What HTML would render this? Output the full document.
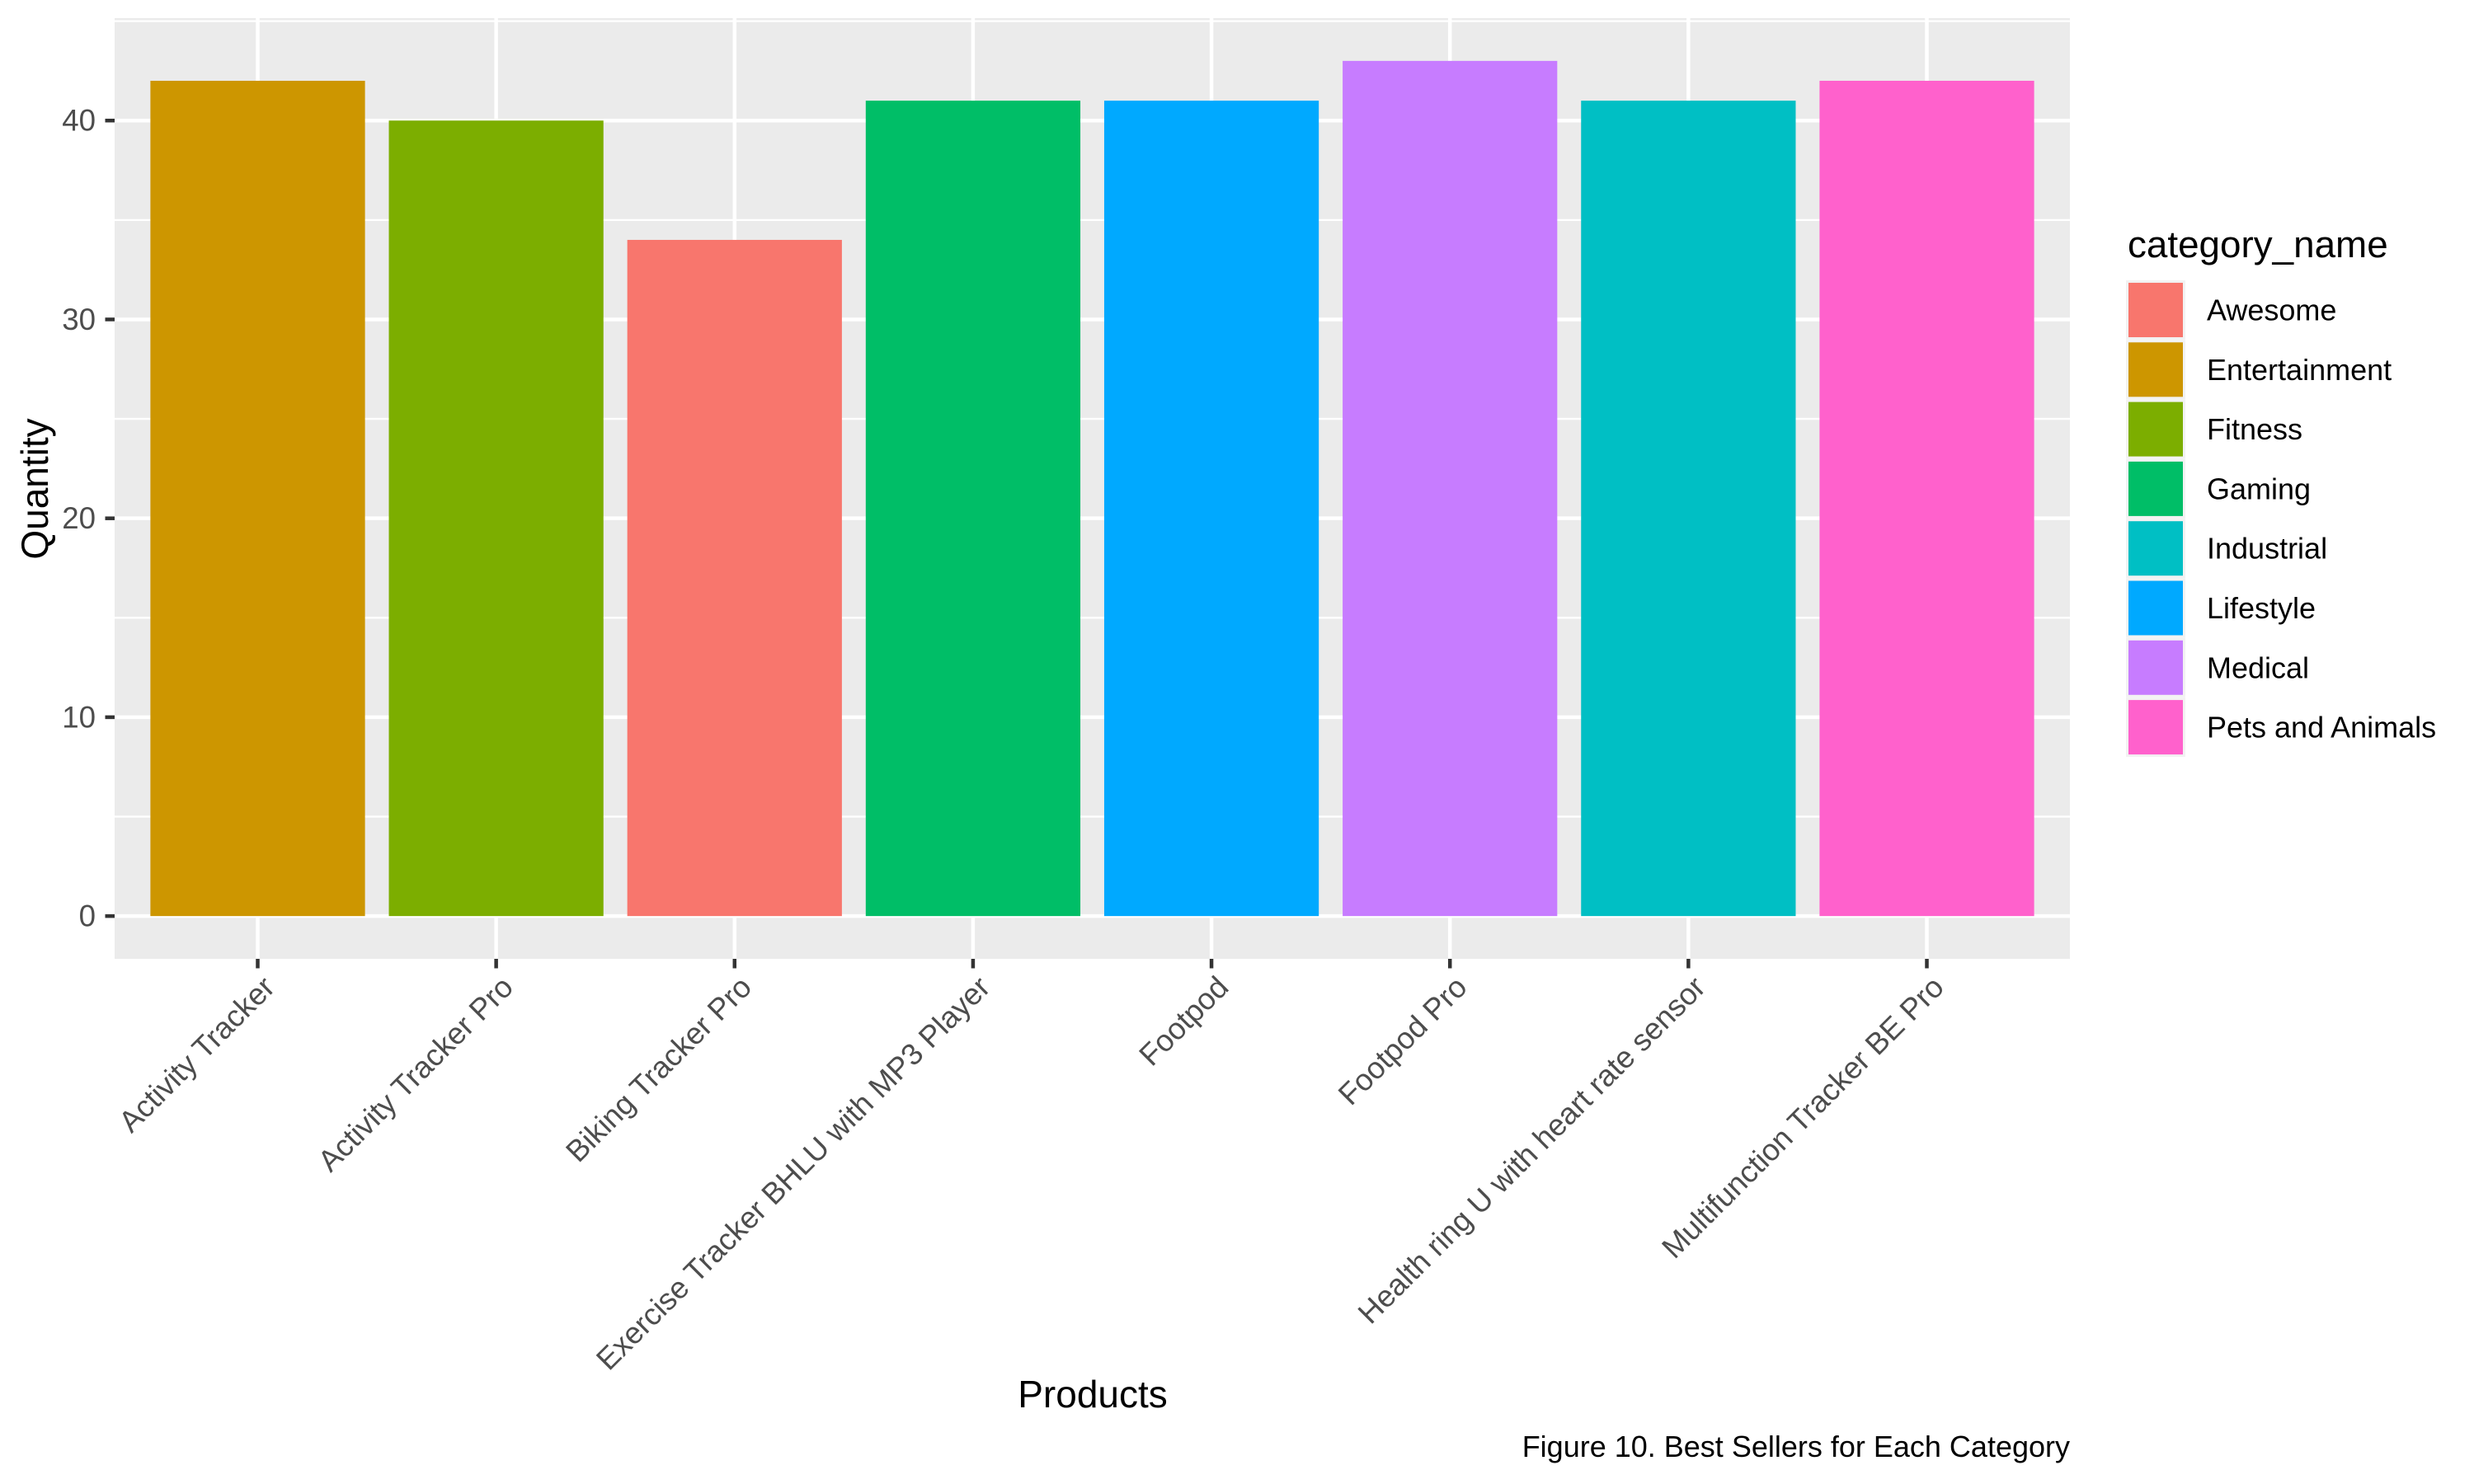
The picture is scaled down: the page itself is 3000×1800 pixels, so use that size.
<!DOCTYPE html>
<html><head><meta charset="utf-8"><style>
html,body{margin:0;padding:0;background:#fff;}
svg{display:block;font-family:"Liberation Sans",Arial,sans-serif;}
</style></head><body>
<svg id="chart" width="3000" height="1800" viewBox="0 0 3000 1800">
<rect x="0" y="0" width="3000" height="1800" fill="#fff"/>
<g id="panel"></g>
<g id="axes"></g>
<g id="legend"></g>
<text x="42" y="593" transform="rotate(-90 42 593)" text-anchor="middle" dominant-baseline="central" font-size="46" fill="#000">Quantity</text>
<text x="1325" y="1707" text-anchor="middle" font-size="46" fill="#000">Products</text>
<text x="2510" y="1767" text-anchor="end" font-size="36" fill="#000">Figure 10. Best Sellers for Each Category</text>
</svg>
<script>
const categories = ["Activity Tracker","Activity Tracker Pro","Biking Tracker Pro","Exercise Tracker BHLU with MP3 Player","Footpod","Footpod Pro","Health ring U with heart rate sensor","Multifunction Tracker BE Pro"];
const quantities = [42,40,34,41,41,43,41,42];
const barGroups = ["Entertainment","Fitness","Awesome","Gaming","Lifestyle","Medical","Industrial","Pets and Animals"];
const legendLabels = ["Awesome","Entertainment","Fitness","Gaming","Industrial","Lifestyle","Medical","Pets and Animals"];
const legendColors = ["#F8766D","#CD9600","#7CAE00","#00BE67","#00BFC4","#00A9FF","#C77CFF","#FF61CC"];
const yTicks = [0,10,20,30,40];
const yMinor = [5,15,25,35,45];

const NS="http://www.w3.org/2000/svg";
function mk(tag, attrs, parent){const e=document.createElementNS(NS,tag);for(const k in attrs)e.setAttribute(k,attrs[k]);parent.appendChild(e);return e;}
const L=139,R=2510,T=22,B=1163;
const maxV=Math.max(...quantities), ex=maxV*0.05;
const yMin=-ex,yMax=maxV+ex;
function y(v){return B-(v-yMin)/(yMax-yMin)*(B-T);}
const band=(R-L)/(categories.length+0.2);
function xc(i){return L+band*(0.6+i);}
const colorOf=g=>legendColors[legendLabels.indexOf(g)];

const panel=document.getElementById('panel');
const bg=mk('rect',{x:L,y:T,width:R-L,height:B-T,fill:'#EBEBEB'},panel);


yMinor.forEach(v=>{if(v>yMax)return;const l=mk('line',{x1:L,x2:R,y1:y(v),y2:y(v),stroke:'#fff','stroke-width':2.3},panel);

});
yTicks.forEach(v=>{const l=mk('line',{x1:L,x2:R,y1:y(v),y2:y(v),stroke:'#fff','stroke-width':4.5},panel);

});
categories.forEach((c,i)=>{const l=mk('line',{x1:xc(i),x2:xc(i),y1:T,y2:B,stroke:'#fff','stroke-width':4.5},panel);

});
categories.forEach((c,i)=>{const w=band*0.9;const r=mk('rect',{x:xc(i)-w/2,y:y(quantities[i]),width:w,height:y(0)-y(quantities[i]),fill:colorOf(barGroups[i])},panel);

});

const axes=document.getElementById('axes');
yTicks.forEach(v=>{const t=mk('line',{x1:127.5,x2:139,y1:y(v),y2:y(v),stroke:'#333','stroke-width':4.5},axes);


const tx=mk('text',{x:116,y:y(v),'text-anchor':'end','dominant-baseline':'central','font-size':36.7,fill:'#4D4D4D'},axes);tx.textContent=v;

});
categories.forEach((c,i)=>{const x=xc(i);const t=mk('line',{x1:x,x2:x,y1:B,y2:B+11.5,stroke:'#333','stroke-width':4.5},axes);


const tx=mk('text',{x:0,y:0,dy:'0.72em','text-anchor':'end','font-size':36.7,fill:'#4D4D4D',transform:`translate(${x+4},${B+18}) rotate(-45)`},axes);tx.textContent=c;

});

const lg=document.getElementById('legend');
const lt=mk('text',{x:2580,y:312,'font-size':45.8,fill:'#000'},lg);lt.textContent='category_name';


legendLabels.forEach((lab,i)=>{const cy=376+i*72.3;
const g=mk('g',{},lg);


mk('rect',{x:2578,y:cy-36,width:72,height:72,fill:'#F2F2F2'},g);
mk('rect',{x:2581,y:cy-33,width:66,height:66,fill:legendColors[i]},g);
const t=mk('text',{x:2676,y:cy,'dominant-baseline':'central','font-size':36,fill:'#000'},g);t.textContent=lab;});
</script>
</body></html>
